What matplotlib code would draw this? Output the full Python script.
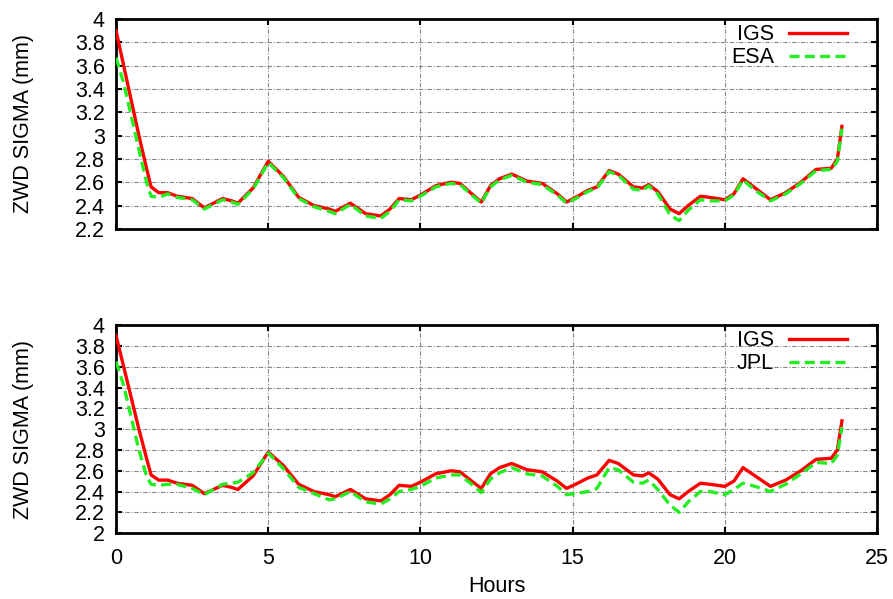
import numpy as np
import matplotlib
matplotlib.use("Agg")
import matplotlib.pyplot as plt
from matplotlib.ticker import FormatStrFormatter, MultipleLocator

plt.rcParams['font.family'] = ['Liberation Sans', 'DejaVu Sans']

hours = [0, 0.25, 0.5, 0.75, 1.0, 1.15, 1.4, 1.7, 2.0, 2.5, 2.9, 3.2, 3.5, 3.8,
         4.0, 4.5, 5.0, 5.5, 6.0, 6.5, 7.0, 7.2, 7.7, 8.2, 8.7, 9.0, 9.3, 9.7,
         10.0, 10.5, 11.0, 11.3, 11.6, 12.0, 12.3, 12.6, 13.0, 13.5, 14.0, 14.5,
         14.8, 15.1, 15.5, 15.8, 16.2, 16.5, 17.0, 17.3, 17.5, 17.8, 18.2, 18.5,
         18.8, 19.2, 19.5, 20.0, 20.3, 20.6, 21.0, 21.5, 22.0, 22.5, 23.0, 23.5,
         23.7, 23.85]

igs = [3.90, 3.60, 3.30, 3.00, 2.72, 2.56, 2.51, 2.51, 2.48, 2.46, 2.38, 2.42,
       2.46, 2.44, 2.42, 2.55, 2.78, 2.65, 2.47, 2.40, 2.37, 2.35, 2.42, 2.33,
       2.31, 2.37, 2.46, 2.45, 2.49, 2.57, 2.60, 2.59, 2.52, 2.43, 2.57, 2.63,
       2.67, 2.61, 2.59, 2.50, 2.43, 2.47, 2.53, 2.56, 2.70, 2.67, 2.56, 2.55,
       2.58, 2.52, 2.37, 2.33, 2.40, 2.48, 2.47, 2.45, 2.50, 2.63, 2.55, 2.45,
       2.51, 2.60, 2.71, 2.72, 2.80, 3.08]

esa = [3.67, 3.45, 3.17, 2.88, 2.60, 2.48, 2.47, 2.50, 2.47, 2.45, 2.37, 2.41,
       2.45, 2.43, 2.41, 2.54, 2.77, 2.64, 2.46, 2.39, 2.35, 2.33, 2.41, 2.31,
       2.29, 2.35, 2.45, 2.44, 2.48, 2.56, 2.59, 2.58, 2.51, 2.42, 2.56, 2.62,
       2.66, 2.60, 2.58, 2.49, 2.42, 2.46, 2.52, 2.55, 2.69, 2.66, 2.54, 2.53,
       2.57, 2.50, 2.32, 2.27, 2.36, 2.45, 2.44, 2.44, 2.49, 2.62, 2.53, 2.44,
       2.50, 2.59, 2.70, 2.71, 2.78, 3.06]

jpl = [3.65, 3.42, 3.11, 2.80, 2.55, 2.47, 2.46, 2.47, 2.47, 2.43, 2.37, 2.42,
       2.47, 2.48, 2.49, 2.58, 2.77, 2.62, 2.44, 2.38, 2.32, 2.33, 2.40, 2.30,
       2.28, 2.33, 2.40, 2.42, 2.45, 2.53, 2.56, 2.56, 2.49, 2.39, 2.52, 2.58,
       2.63, 2.57, 2.55, 2.45, 2.37, 2.38, 2.40, 2.43, 2.63, 2.61, 2.49, 2.48,
       2.51, 2.42, 2.27, 2.20, 2.30, 2.40, 2.40, 2.37, 2.42, 2.48, 2.45, 2.40,
       2.47, 2.57, 2.68, 2.67, 2.75, 3.02]

RED = '#ff0000'
GREEN = '#22ee22'
FS = 15.5


def style_axes(ax, ymin):
    ax.set_xlim(0, 25)
    ax.set_ylim(ymin, 4)
    ax.xaxis.set_major_locator(MultipleLocator(5))
    ax.yaxis.set_major_locator(MultipleLocator(0.2))
    ax.yaxis.set_major_formatter(FormatStrFormatter('%g'))
    ax.tick_params(direction='in', top=True, right=True, length=4, width=1.5,
                   labelsize=FS, colors='black')
    ax.tick_params(axis='y', pad=8)
    ax.tick_params(axis='x', pad=11)
    ax.grid(True, color='#888888', linestyle=(0, (4, 1.5, 1, 1.5)), linewidth=0.8)
    for sp in ax.spines.values():
        sp.set_linewidth(2)
    ax.set_ylabel("ZWD SIGMA (mm)", fontsize=FS)
    ax.yaxis.set_label_coords(-0.108, 0.5)


fig = plt.figure(figsize=(8.93, 5.99), dpi=100)
ax1 = fig.add_axes([0.130, 0.618, 0.852, 0.350])
ax2 = fig.add_axes([0.130, 0.110, 0.852, 0.347])

ax1.plot(hours, igs, color=RED, lw=2.4, label="IGS", zorder=3)
ax1.plot(hours, esa, color=GREEN, lw=2.4, dashes=(3, 1.6), label="ESA", zorder=4)
style_axes(ax1, 2.2)
ax1.tick_params(labelbottom=False)

ax2.plot(hours, igs, color=RED, lw=2.4, label="IGS", zorder=3)
ax2.plot(hours, jpl, color=GREEN, lw=2.4, dashes=(3, 1.6), label="JPL", zorder=4)
style_axes(ax2, 2.0)
ax2.set_xlabel("Hours", fontsize=FS, labelpad=5)

for ax in (ax1, ax2):
    ax.legend(loc='upper right', bbox_to_anchor=(0.961, 0.975), frameon=False,
              markerfirst=False, fontsize=FS, handlelength=2.7,
              borderaxespad=0, borderpad=0, labelspacing=0.08,
              handletextpad=0.7)

fig.savefig("out.png", dpi=100)
